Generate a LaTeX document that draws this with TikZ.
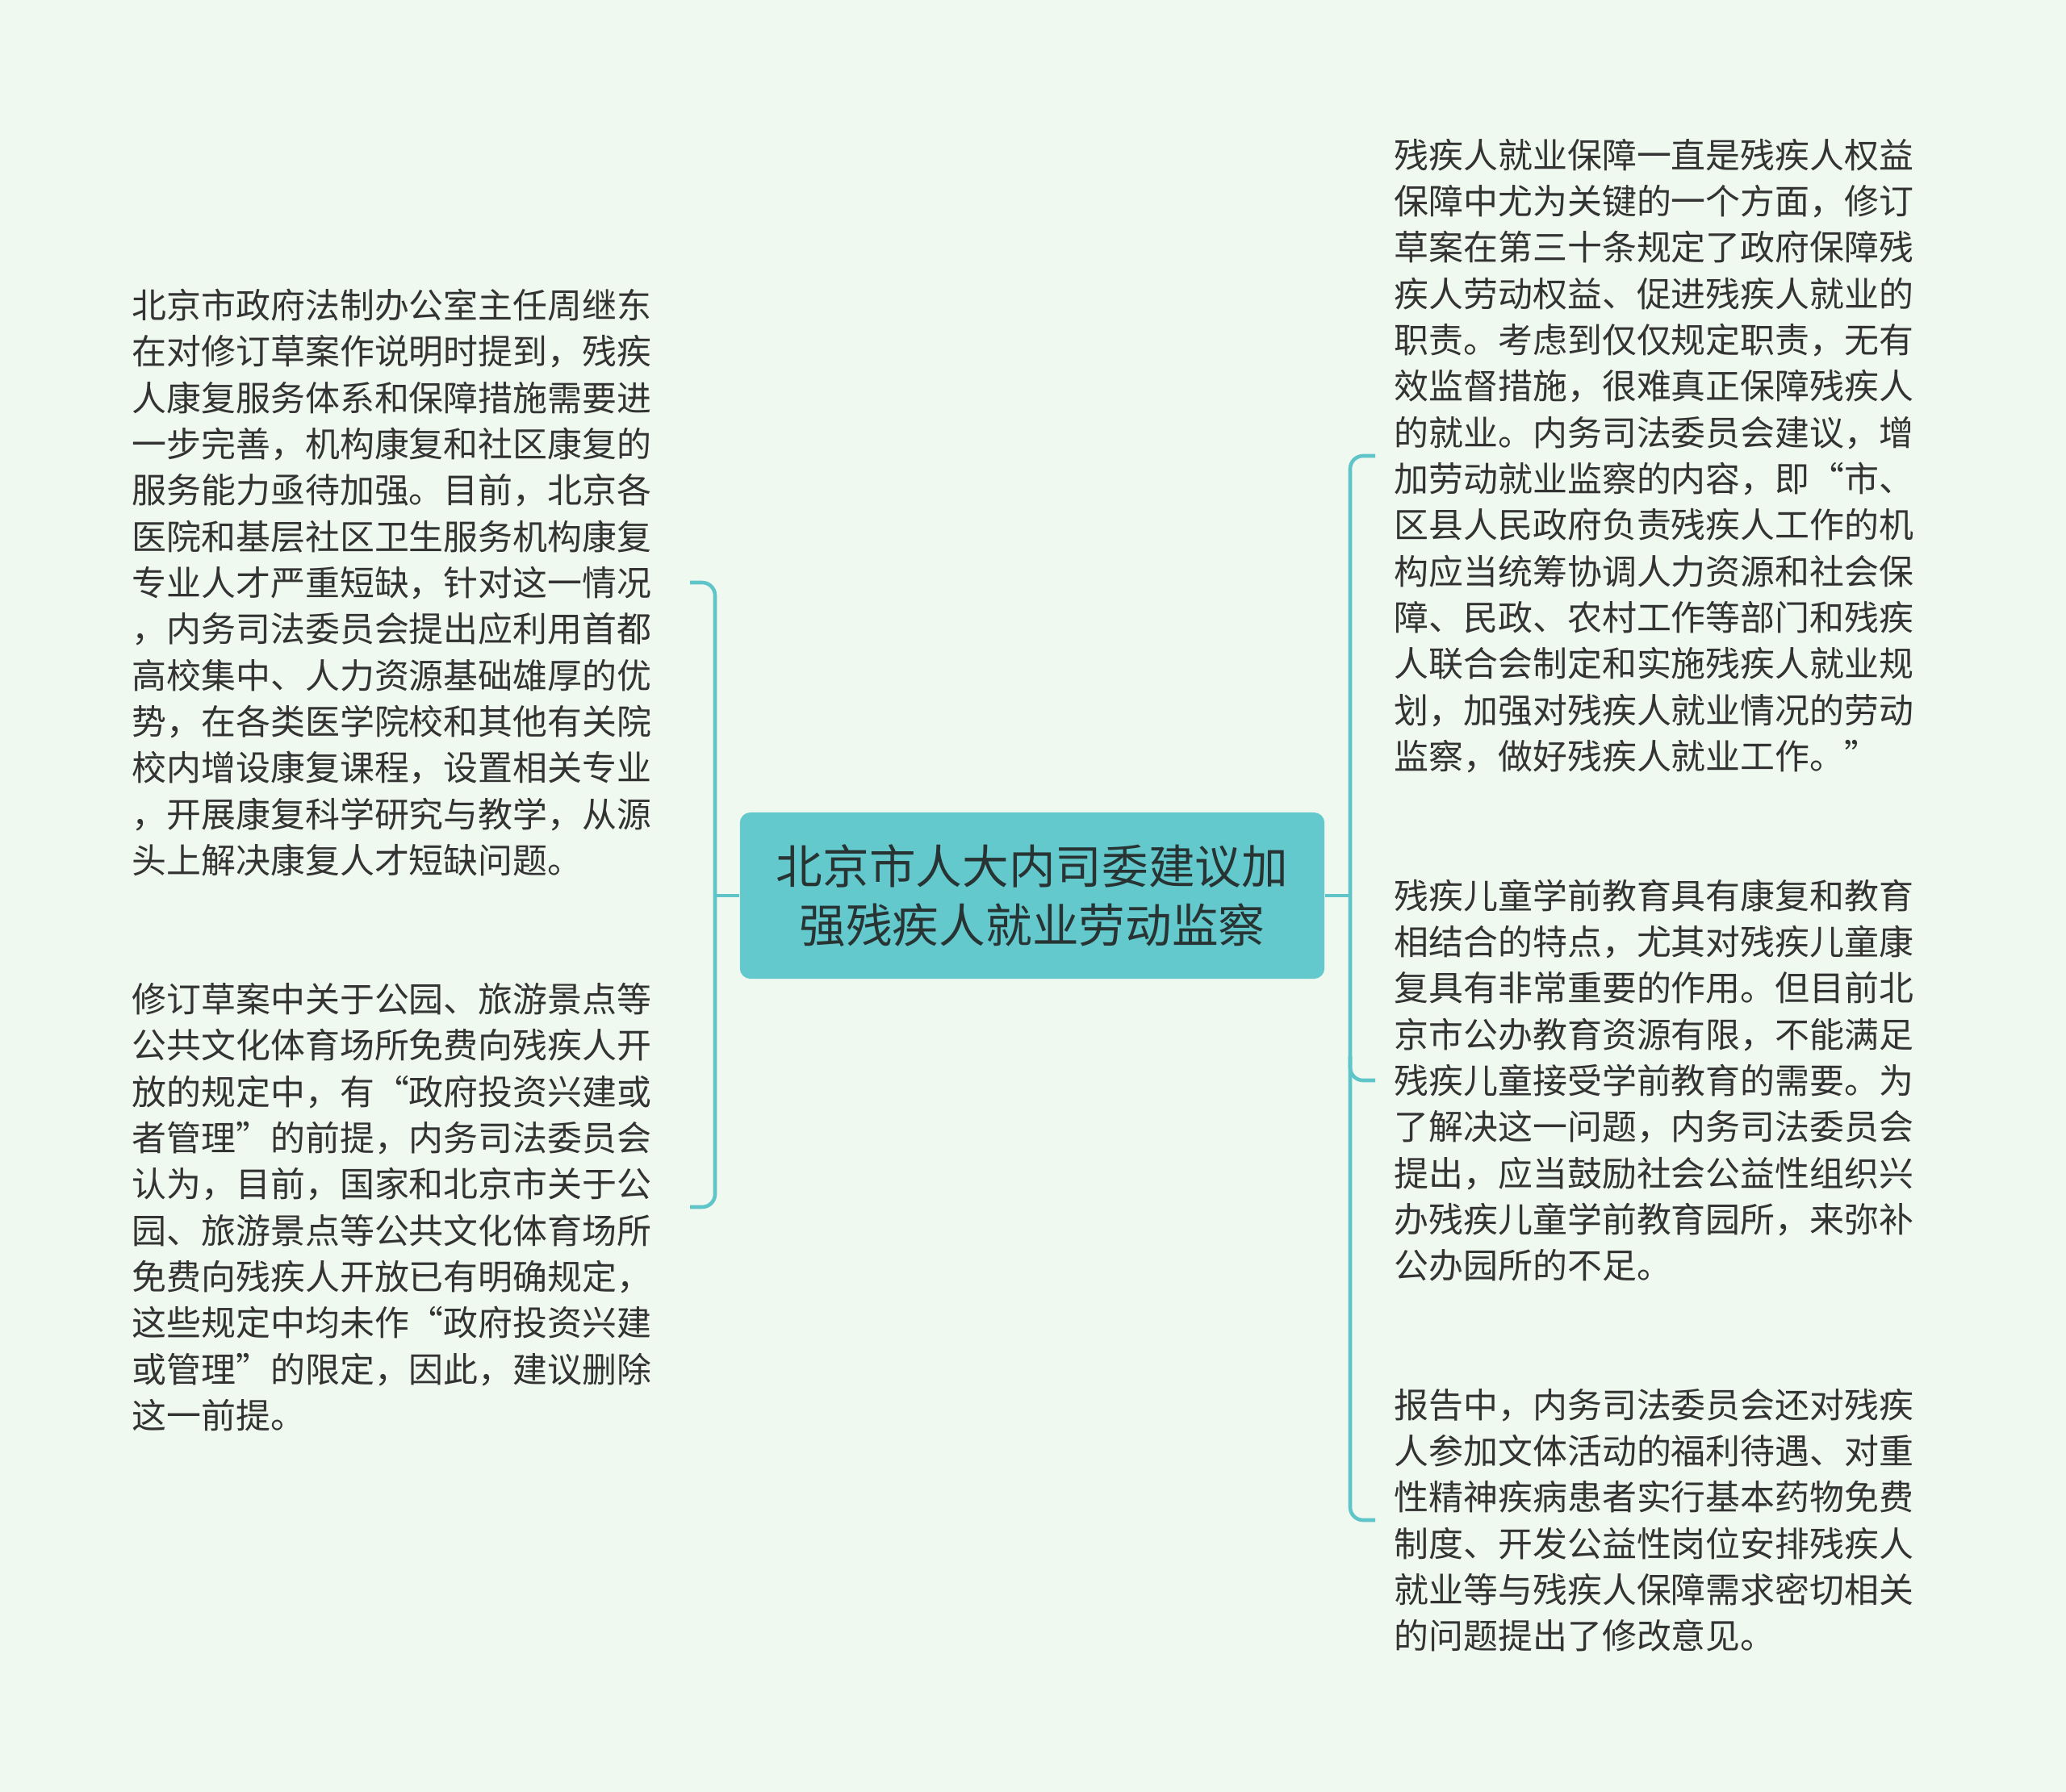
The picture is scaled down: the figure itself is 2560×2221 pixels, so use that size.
\documentclass[tikz,border=0pt]{standalone}
\usepackage{fontspec}
\usepackage{xcolor}
\usepackage{tikz}
\usetikzlibrary{positioning, calc}
\setmainfont{Noto Sans CJK SC}
\definecolor{bgmint}{RGB}{240, 249, 240}
\definecolor{boxteal}{RGB}{99, 201, 204}
\definecolor{lineteal}{RGB}{96, 197, 201}
\definecolor{textgray}{RGB}{51, 51, 51}
\definecolor{titlegray}{RGB}{40, 52, 52}

\begin{document}
\begin{tikzpicture}[
  x=0.01cm, y=-0.01cm,
  topic/.style={fill=boxteal, rounded corners=0.13cm, minimum width=7.24cm, minimum height=2.06cm, align=center, text=titlegray, font=\fontsize{16.4pt}{20.9pt}\selectfont},
  leafleft/.style={anchor=east, align=left, inner xsep=0.47cm, inner ysep=0pt, text=textgray, font=\fontsize{12.2pt}{16.3pt}\selectfont},
  leafright/.style={leafleft, anchor=west, inner xsep=0.23cm},
  branch/.style={draw=lineteal, line width=1.3pt, rounded corners=0.16cm}
]
  \fill[bgmint] (0,0) rectangle (2560,2221);
  \useasboundingbox (0,0) rectangle (2560,2221);

  \node[topic] (topic) at (1279,1110) {北京市人大内司委建议加\\强残疾人就业劳动监察};

  % Left side
  \node[leafleft] (left1) at (855,722) {北京市政府法制办公室主任周继东\\在对修订草案作说明时提到，残疾\\人康复服务体系和保障措施需要进\\一步完善，机构康复和社区康复的\\服务能力亟待加强。目前，北京各\\医院和基层社区卫生服务机构康复\\专业人才严重短缺，针对这一情况\\，内务司法委员会提出应利用首都\\高校集中、人力资源基础雄厚的优\\势，在各类医学院校和其他有关院\\校内增设康复课程，设置相关专业\\，开展康复科学研究与教学，从源\\头上解决康复人才短缺问题。};
  \node[leafleft] (left2) at (855,1496) {修订草案中关于公园、旅游景点等\\公共文化体育场所免费向残疾人开\\放的规定中，有“政府投资兴建或\\者管理”的前提，内务司法委员会\\认为，目前，国家和北京市关于公\\园、旅游景点等公共文化体育场所\\免费向残疾人开放已有明确规定，\\这些规定中均未作“政府投资兴建\\或管理”的限定，因此，建议删除\\这一前提。};

  % Right side
  \node[leafright] (right1) at (1704,565) {残疾人就业保障一直是残疾人权益\\保障中尤为关键的一个方面，修订\\草案在第三十条规定了政府保障残\\疾人劳动权益、促进残疾人就业的\\职责。考虑到仅仅规定职责，无有\\效监督措施，很难真正保障残疾人\\的就业。内务司法委员会建议，增\\加劳动就业监察的内容，即“市、\\区县人民政府负责残疾人工作的机\\构应当统筹协调人力资源和社会保\\障、民政、农村工作等部门和残疾\\人联合会制定和实施残疾人就业规\\划，加强对残疾人就业情况的劳动\\监察，做好残疾人就业工作。”};
  \node[leafright] (right2) at (1704,1339) {残疾儿童学前教育具有康复和教育\\相结合的特点，尤其对残疾儿童康\\复具有非常重要的作用。但目前北\\京市公办教育资源有限，不能满足\\残疾儿童接受学前教育的需要。为\\了解决这一问题，内务司法委员会\\提出，应当鼓励社会公益性组织兴\\办残疾儿童学前教育园所，来弥补\\公办园所的不足。};
  \node[leafright] (right3) at (1704,1884) {报告中，内务司法委员会还对残疾\\人参加文体活动的福利待遇、对重\\性精神疾病患者实行基本药物免费\\制度、开发公益性岗位安排残疾人\\就业等与残疾人保障需求密切相关\\的问题提出了修改意见。};

  % Brackets
  \coordinate (ljoint) at (886,1110);
  \coordinate (rjoint) at (1673,1110);
  \draw[branch] (topic.west) -- (ljoint);
  \draw[branch] (left1.east) -- (ljoint |- left1.east) -- (ljoint |- left2.east) -- (left2.east);
  \draw[branch] (topic.east) -- (rjoint);
  \draw[branch] (right1.west) -- (rjoint |- right1.west) -- (rjoint |- right3.west) -- (right3.west);
  \draw[branch] ($(rjoint |- right2.west)+(0,-30)$) -- (rjoint |- right2.west) -- (right2.west);
\end{tikzpicture}
\end{document}
